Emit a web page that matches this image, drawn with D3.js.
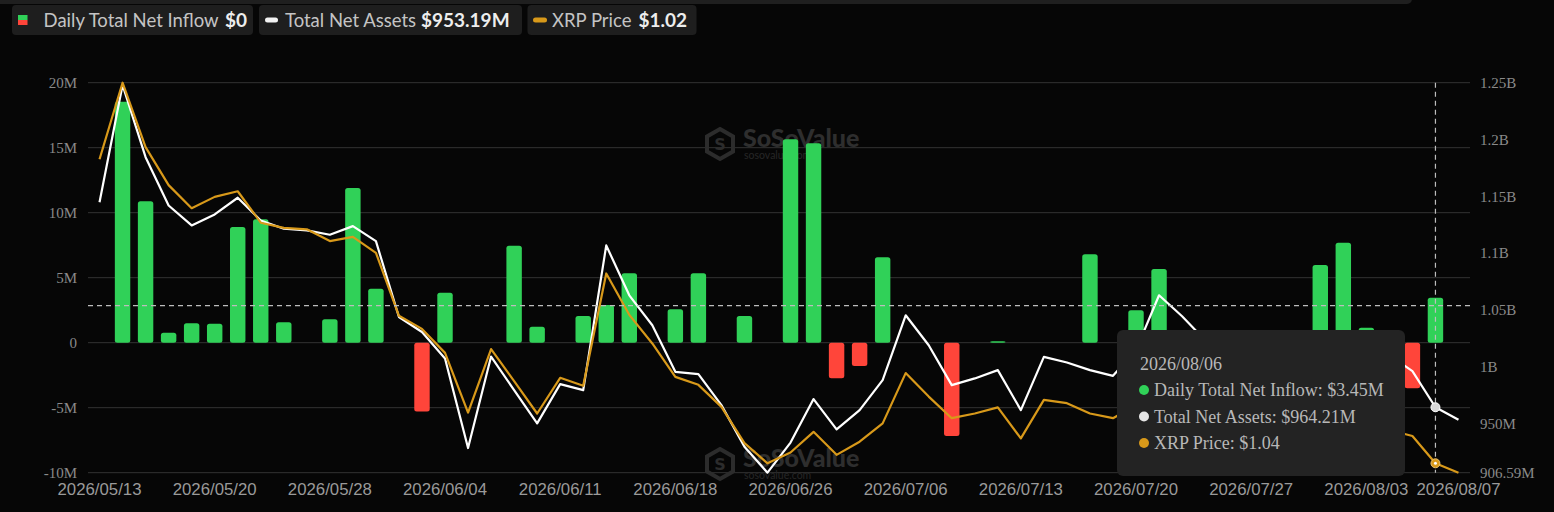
<!DOCTYPE html>
<html><head><meta charset="utf-8">
<script src="https://cdn.jsdelivr.net/npm/d3@7"></script>
<style>html,body{margin:0;padding:0;background:#060606;overflow:hidden}</style>
</head><body><svg id="c" width="1554" height="512"></svg>
<script>
const dates = ["2026/05/13","2026/05/14","2026/05/15","2026/05/18","2026/05/19","2026/05/20","2026/05/21","2026/05/22","2026/05/26","2026/05/27",
"2026/05/28","2026/05/29","2026/06/01","2026/06/02","2026/06/03","2026/06/04","2026/06/05","2026/06/08","2026/06/09","2026/06/10",
"2026/06/11","2026/06/12","2026/06/15","2026/06/16","2026/06/17","2026/06/18","2026/06/22","2026/06/23","2026/06/24","2026/06/25",
"2026/06/26","2026/06/29","2026/06/30","2026/07/01","2026/07/02","2026/07/06","2026/07/07","2026/07/08","2026/07/09","2026/07/10",
"2026/07/13","2026/07/14","2026/07/15","2026/07/16","2026/07/17","2026/07/20","2026/07/21","2026/07/22","2026/07/23","2026/07/24",
"2026/07/27","2026/07/28","2026/07/29","2026/07/30","2026/07/31","2026/08/03","2026/08/04","2026/08/05","2026/08/06","2026/08/07"];
// Daily total net inflow (millions USD)
const inflow = [0,18.54,10.88,0.77,1.49,1.45,8.9,9.49,1.57,0,
1.8,11.9,4.15,0,-5.3,3.85,0,0,7.46,1.23,
0,2.05,2.9,5.34,0,2.57,5.34,0,2.05,0,
15.65,15.34,-2.74,-1.79,6.57,0,0,-7.18,0,0.12,
0,0,0,6.8,0,2.5,5.67,0,0,0,
0,0,0,5.98,7.69,1.15,0,-3.5,3.45,0];
// Total net assets (millions USD)
const netAssets = [1144.8,1248,1184.4,1141.9,1124.3,1134.0,1148.7,1128.7,1121.4,1119.9,
1116.1,1123.7,1110.5,1043.7,1030.5,1007.2,928.3,1008.9,979.3,950.0,
984.6,979.3,1106.7,1062.8,1036.4,995.4,993.4,966.1,929.5,906.59,
933.1,971.4,944.7,961.7,988.1,1045.2,1018.8,983.7,989.6,996.9,
961.7,1008.6,1003.6,996.9,991.9,1014.5,1062.8,1044.3,1023.2,1012.7,
1005.7,1014.5,1018.8,1023.2,1027.6,1018.8,1010.1,996.0,964.21,953.19];
// XRP price (USD)
const xrpPrice = [1.687,1.850,1.713,1.632,1.583,1.607,1.619,1.552,1.541,1.538,
1.513,1.522,1.488,1.354,1.326,1.275,1.148,1.283,1.215,1.146,
1.222,1.205,1.444,1.356,1.295,1.224,1.207,1.160,1.083,1.040,
1.063,1.107,1.058,1.086,1.125,1.232,1.182,1.136,1.146,1.159,
1.093,1.175,1.168,1.146,1.136,1.164,1.192,1.164,1.136,1.122,
1.111,1.122,1.128,1.132,1.136,1.122,1.111,1.098,1.04,1.02];
const xTickLabels = ["2026/05/13","2026/05/20","2026/05/28","2026/06/04","2026/06/11","2026/06/18","2026/06/26","2026/07/06","2026/07/13","2026/07/20","2026/07/27","2026/08/03","2026/08/07"];
const leftTicks = [-10,-5,0,5,10,15,20];
const leftTickLabels = ["-10M","-5M","0","5M","10M","15M","20M"];
const rightTicks = [906.59,950,1000,1050,1100,1150,1200,1250];
const rightTickLabels = ["906.59M","950M","1B","1.05B","1.1B","1.15B","1.2B","1.25B"];
const legendNames = ["Daily Total Net Inflow","Total Net Assets","XRP Price"];
const legendValues = ["$0","$953.19M","$1.02"];
const tooltipDate = "2026/08/06";
const tooltipLines = ["Daily Total Net Inflow: $3.45M","Total Net Assets: $964.21M","XRP Price: $1.04"];
const cursorInflow = 2.85;

const GREEN="#30d158", RED="#ff453a", ORANGE="#d8991a", WHITE="#ffffff";
const svg = d3.select("#c");
svg.append("rect").attr("width",1554).attr("height",512).attr("fill","#060606");
// top bar
svg.append("rect").attr("x",-6).attr("y",-6).attr("width",1418).attr("height",10).attr("rx",5).attr("fill","#1f1f1f");

const L=88, R=1470, T=82.7, B=472.7;
const x = d3.scaleBand().domain(dates).range([L,R]).paddingInner(0.33).paddingOuter(0.165);
const cx = d => x(d)+x.bandwidth()/2;
const yL = d3.scaleLinear().domain([-10,20]).range([B,T]);
const yR = d3.scaleLinear().domain([d3.min(netAssets),1250]).range([B,T]);
const yP = d3.scaleLinear().domain(d3.extent(xrpPrice)).range([B,T]);

// grid
svg.append("g").selectAll("line").data(leftTicks).join("line")
  .attr("x1",L).attr("x2",R).attr("y1",d=>yL(d)).attr("y2",d=>yL(d))
  .attr("stroke","#333").attr("stroke-width",1);

// watermarks
function watermark(cxp, cyp){
  const g = svg.append("g");
  const hex = d3.range(6).map(i=>{const a=Math.PI/3*i - Math.PI/2; return [cxp-23+15*Math.cos(a), cyp+15*Math.sin(a)];});
  g.append("path").attr("d", d3.line()(hex)+"Z").attr("fill","none").attr("stroke","#2c2c2c").attr("stroke-width",4);
  g.append("text").attr("x",cxp-23).attr("y",cyp+6).attr("text-anchor","middle").attr("font-family","DejaVu Sans").attr("font-weight","bold").attr("font-size",16).attr("fill","#2c2c2c").text("S");
  g.append("text").attr("x",cxp).attr("y",cyp+3).attr("font-family","Lato, 'Open Sans', sans-serif").attr("font-weight","900").attr("font-size",25).attr("fill","#2e2e2e").text("SoSoValue");
  g.append("text").attr("x",cxp+1).attr("y",cyp+15).attr("font-family","Lato, sans-serif").attr("font-size",10.5).attr("fill","#262626").text("sosovalue.com");
}
watermark(743,144);
watermark(743,464);

// bars
svg.append("g").selectAll("rect").data(dates.map((d,i)=>({d,v:inflow[i]})).filter(o=>o.v!==0)).join("rect")
  .attr("x",o=>x(o.d)).attr("width",x.bandwidth())
  .attr("y",o=>Math.min(yL(o.v),yL(0))).attr("height",o=>Math.max(1.5,Math.abs(yL(o.v)-yL(0))))
  .attr("rx",2.5).attr("fill",o=>o.v>=0?GREEN:RED);

// lines
const lineA = d3.line().x((v,i)=>cx(dates[i])).y(v=>yR(v));
const lineP = d3.line().x((v,i)=>cx(dates[i])).y(v=>yP(v));
svg.append("path").attr("d",lineA(netAssets)).attr("fill","none").attr("stroke",WHITE).attr("stroke-width",2.2).attr("stroke-linejoin","round");
svg.append("path").attr("d",lineP(xrpPrice)).attr("fill","none").attr("stroke",ORANGE).attr("stroke-width",2.2).attr("stroke-linejoin","round");

// axes
const axL = svg.append("g").attr("transform",`translate(${L},0)`)
  .call(d3.axisLeft(yL).tickValues(leftTicks).tickSize(0).tickPadding(11).tickFormat((d,i)=>leftTickLabels[i]));
const axR = svg.append("g").attr("transform",`translate(${R},0)`)
  .call(d3.axisRight(yR).tickValues(rightTicks).tickSize(0).tickPadding(10).tickFormat((d,i)=>rightTickLabels[i]));
const axB = svg.append("g").attr("transform",`translate(0,${B})`)
  .call(d3.axisBottom(x).tickValues(xTickLabels).tickSize(0).tickPadding(10));
[axL,axR].forEach(a=>{a.select(".domain").remove(); a.selectAll("text").attr("font-family","'Liberation Serif', 'Times New Roman', serif").attr("font-size",15).attr("fill","#8a8a8a");});
axB.select(".domain").remove();
axB.selectAll("text").attr("font-family","'Liberation Sans', Arial, sans-serif").attr("font-size",16.8).attr("fill","#9a9a9a");

// crosshair
const hi = dates.indexOf(tooltipDate);
svg.append("line").attr("x1",L).attr("x2",R).attr("y1",yL(cursorInflow)).attr("y2",yL(cursorInflow))
  .attr("stroke","#bdbdbd").attr("stroke-width",1.2).attr("stroke-dasharray","5,4");
svg.append("line").attr("x1",cx(tooltipDate)).attr("x2",cx(tooltipDate)).attr("y1",T).attr("y2",B)
  .attr("stroke","#bdbdbd").attr("stroke-width",1.2).attr("stroke-dasharray","5,4");
svg.append("circle").attr("cx",cx(tooltipDate)).attr("cy",yR(netAssets[hi])).attr("r",4.5).attr("fill","#d8d8d8").attr("stroke","#fff").attr("stroke-width",1);
svg.append("circle").attr("cx",cx(tooltipDate)).attr("cy",yP(xrpPrice[hi])).attr("r",4.5).attr("fill",ORANGE).attr("stroke","#e8c070").attr("stroke-width",1);
svg.append("circle").attr("cx",cx(tooltipDate)).attr("cy",yP(xrpPrice[hi])).attr("r",1.5).attr("fill","#fff");

// tooltip
const tt = svg.append("g").attr("transform","translate(1117,330)");
tt.append("rect").attr("width",288).attr("height",146).attr("rx",6).attr("fill","#232323");
tt.append("text").attr("x",23).attr("y",40).attr("font-family","'Liberation Serif', serif").attr("font-size",18).attr("fill","#b8b8b8").text(tooltipDate);
const ttColors=[GREEN,"#e6e6e6",ORANGE];
tooltipLines.forEach((t,i)=>{
  tt.append("circle").attr("cx",27).attr("cy",60+i*26.5).attr("r",5).attr("fill",ttColors[i]);
  tt.append("text").attr("x",37).attr("y",66+i*26.5).attr("font-family","'Liberation Serif', serif").attr("font-size",18).attr("fill","#b8b8b8").text(t);
});

// legend
const boxes=[[12,241],[259,263],[527.5,169]];
const nameX=[43.6,285,552], valX=[225,421,638.5];
boxes.forEach((b,i)=>{
  svg.append("rect").attr("x",b[0]).attr("y",5).attr("width",b[1]).attr("height",30).attr("rx",4).attr("fill","#1e1e1e");
  svg.append("text").attr("x",nameX[i]).attr("y",26.5).attr("font-family","Lato, 'Open Sans', sans-serif").attr("font-size",18.5).attr("fill","#c4c4c4").text(legendNames[i]);
  svg.append("text").attr("x",valX[i]).attr("y",26.5).attr("font-family","Lato, 'Open Sans', sans-serif").attr("font-weight","bold").attr("font-size",19).attr("fill","#ededed").text(legendValues[i]);
});
svg.append("rect").attr("x",18).attr("y",15).attr("width",9.5).attr("height",5).attr("fill",GREEN);
svg.append("rect").attr("x",18).attr("y",20).attr("width",9.5).attr("height",5).attr("fill",RED);
svg.append("rect").attr("x",265).attr("y",17.5).attr("width",13).attr("height",5).attr("rx",2.5).attr("fill","#f2f2f2");
svg.append("rect").attr("x",533).attr("y",17.5).attr("width",14).attr("height",5).attr("rx",2.5).attr("fill",ORANGE);
</script></body></html>
